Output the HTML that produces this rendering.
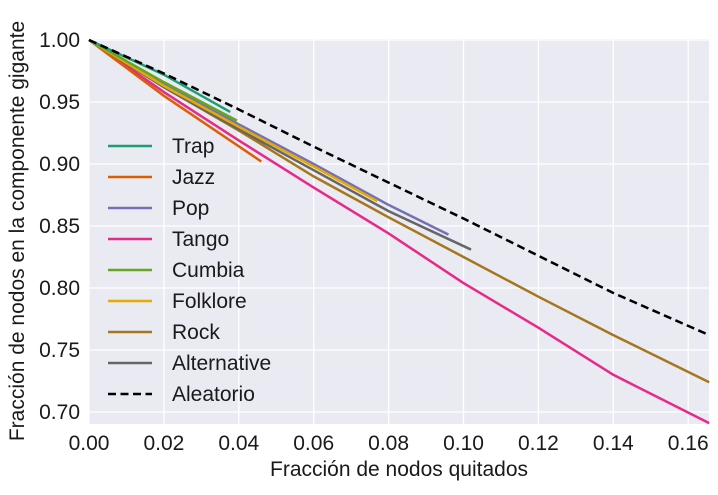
<!DOCTYPE html>
<html><head><meta charset="utf-8"><style>
body{margin:0;background:#fff;font-family:"Liberation Sans",Arial,sans-serif}
svg text{font-family:"Liberation Sans",Arial,sans-serif;fill:#1a1a1a}
</style></head><body>
<svg id="chart" width="718" height="490" xmlns="http://www.w3.org/2000/svg">
<rect x="89" y="39" width="620" height="385" fill="#eaeaf2"/>
<g id="grid"></g><g id="series"></g><g id="ticks"></g><g id="legend"></g>
<text x="399" y="476" font-size="21" text-anchor="middle">Fracción de nodos quitados</text>
<text transform="translate(24,231) rotate(-90)" font-size="21" text-anchor="middle">Fracción de nodos en la componente gigante</text>
</svg>
<script>
const names=["Trap","Jazz","Pop","Tango","Cumbia","Folklore","Rock","Alternative","Aleatorio"];
const colors=["#1b9e77","#d95f02","#7570b3","#e7298a","#66a61e","#e6ab02","#a6761d","#666666","#000000"];
const xTrap=[0,0.02,0.0377], yTrap=[1,0.972,0.942];
const xJazz=[0,0.02,0.046], yJazz=[1,0.955,0.902];
const xPop=[0,0.02,0.04,0.06,0.08,0.096], yPop=[1,0.964,0.932,0.900,0.867,0.843];
const xTango=[0,0.02,0.04,0.06,0.08,0.10,0.12,0.14,0.1656], yTango=[1,0.958,0.919,0.881,0.844,0.804,0.768,0.730,0.691];
const xCumbia=[0,0.02,0.0395], yCumbia=[1,0.966,0.935];
const xFolk=[0,0.02,0.04,0.06,0.077], yFolk=[1,0.963,0.930,0.898,0.870];
const xRock=[0,0.02,0.04,0.06,0.08,0.10,0.12,0.14,0.1656], yRock=[1,0.962,0.927,0.890,0.857,0.825,0.793,0.762,0.724];
const xAlt=[0,0.02,0.04,0.06,0.08,0.102], yAlt=[1,0.962,0.928,0.895,0.862,0.831];
const xRand=[0,0.02,0.04,0.06,0.08,0.10,0.12,0.14,0.1656], yRand=[1,0.973,0.944,0.914,0.885,0.856,0.826,0.796,0.762];
const xTicks=[0,0.02,0.04,0.06,0.08,0.10,0.12,0.14,0.16];
const yTicks=[0.70,0.75,0.80,0.85,0.90,0.95,1.00];
const X=v=>89+v/0.02*74.9, Y=v=>40+(1-v)/0.05*62;
const ns="http://www.w3.org/2000/svg";
function mk(t,a,p){const e=document.createElementNS(ns,t);for(const k in a)e.setAttribute(k,a[k]);p.appendChild(e);return e;}
const g=document.getElementById('grid'),tk=document.getElementById('ticks');
xTicks.forEach(v=>{const l=mk('line',{x1:X(v),x2:X(v),y1:39,y2:424,stroke:'#fff','stroke-width':1.3},g);

const t=mk('text',{x:X(v),y:450,'font-size':21,'text-anchor':'middle'},tk);t.textContent=v.toFixed(2);
});
yTicks.forEach(v=>{const l=mk('line',{x1:89,x2:709,y1:Y(v),y2:Y(v),stroke:'#fff','stroke-width':1.3},g);

const t=mk('text',{x:80,y:Y(v)+7,'font-size':21,'text-anchor':'end'},tk);t.textContent=v.toFixed(2);
});
const xs=[xTrap,xJazz,xPop,xTango,xCumbia,xFolk,xRock,xAlt,xRand], ys=[yTrap,yJazz,yPop,yTango,yCumbia,yFolk,yRock,yAlt,yRand];
const order=[6,3,1,7,2,5,4,0,8];
const s=document.getElementById('series');
order.forEach(i=>{const p=mk('polyline',{points:xs[i].map((x,j)=>X(x)+','+Y(ys[i][j])).join(' '),fill:'none',stroke:colors[i],'stroke-width':2.5},s);
if(i==8)p.setAttribute('stroke-dasharray','8,4.5');

});
const lg=document.getElementById('legend');
names.forEach((n,i)=>{const y=146+i*31;
const l=mk('line',{x1:108,x2:152,y1:y,y2:y,stroke:colors[i],'stroke-width':2.5},lg);
if(i==8)l.setAttribute('stroke-dasharray','8,4.5');

const t=mk('text',{x:172,y:y+7,'font-size':21},lg);t.textContent=n;
});
</script>
</body></html>
